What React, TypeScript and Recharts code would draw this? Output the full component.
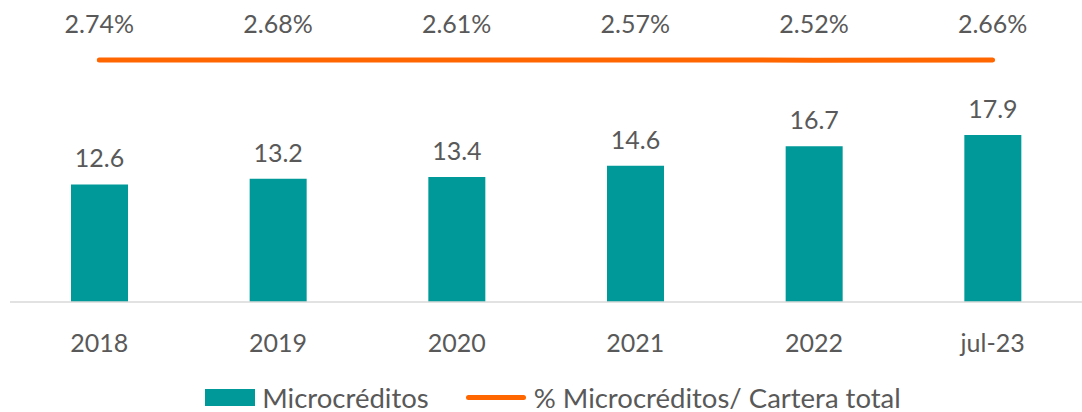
import { ComposedChart, Bar, Line, XAxis, YAxis, LabelList, Legend } from 'recharts'

const periods = ['2018', '2019', '2020', '2021', '2022', 'jul-23']
const microcreditos = [12.6, 13.2, 13.4, 14.6, 16.7, 17.9]
const pctCartera = [2.74, 2.68, 2.61, 2.57, 2.52, 2.66]

const TEAL = '#009999'
const ORANGE = '#FF6600'
const TEXT = '#595959'
const FONT = 'Lato, "Open Sans", sans-serif'

const data = periods.map((p, i) => ({
  period: p,
  micro: microcreditos[i],
  pct: pctCartera[i],
}))

const fmtPct = (v: any) => Number(v).toFixed(2) + '%'

function LegendBox() {
  return (
    <div style={{ display: 'flex', justifyContent: 'center', alignItems: 'center', paddingTop: 32, paddingLeft: 14, fontFamily: FONT, fontSize: 27.5, lineHeight: 1, color: TEXT, gap: 37 }}>
      <div style={{ display: 'flex', alignItems: 'center' }}>
        <span style={{ display: 'inline-block', width: 50, height: 17, background: TEAL, marginRight: 7 }} />
        Microcréditos
      </div>
      <div style={{ display: 'flex', alignItems: 'center' }}>
        <span style={{ display: 'inline-block', width: 60, height: 5, borderRadius: 3, background: ORANGE, marginRight: 8 }} />
        % Microcréditos/ Cartera total
      </div>
    </div>
  )
}

export default function App() {
  return (
    <div style={{ position: 'absolute', left: 0, top: 0, background: '#fff' }}>
      <ComposedChart width={1082} height={412} data={data} margin={{ top: 22, right: 0, bottom: 0, left: 10 }}>
        <XAxis
          dataKey="period"
          axisLine={{ stroke: '#d9d9d9', strokeWidth: 1.5 }}
          tickLine={false}
          height={50}
          tickMargin={26}
          tick={{ fontSize: 25, fill: TEXT, fontFamily: FONT }}
        />
        <YAxis yAxisId="left" hide domain={[0, 30]} />
        <YAxis yAxisId="right" hide orientation="right" domain={[-429.4, 70.6]} />
        <Legend verticalAlign="bottom" content={() => <LegendBox />} wrapperStyle={{ height: 60 }} />
        <Bar yAxisId="left" dataKey="micro" name="Microcréditos" fill={TEAL} barSize={57} isAnimationActive={false}>
          <LabelList dataKey="micro" position="top" offset={17} style={{ fontSize: 25, fill: TEXT, fontFamily: FONT }} />
        </Bar>
        <Line
          yAxisId="right"
          dataKey="pct"
          name="% Microcréditos/ Cartera total"
          stroke={ORANGE}
          strokeWidth={5}
          strokeLinecap="round"
          dot={false}
          isAnimationActive={false}
        >
          <LabelList dataKey="pct" position="top" offset={27} formatter={fmtPct} style={{ fontSize: 25, fill: TEXT, fontFamily: FONT }} />
        </Line>
      </ComposedChart>
    </div>
  )
}
